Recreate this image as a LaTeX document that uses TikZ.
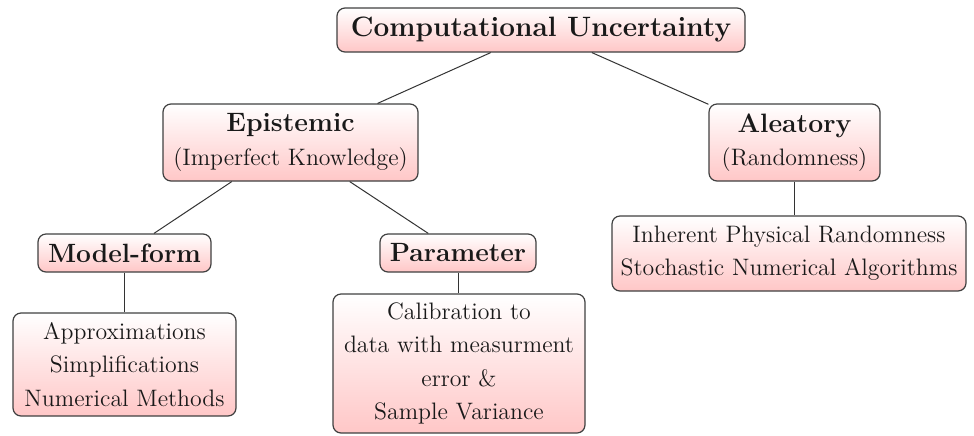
\documentclass[tikz,border=0pt]{standalone}
\usetikzlibrary{shadings}
\begin{document}
\begin{tikzpicture}[x=0.5pt,y=-0.5pt,
  box/.style={draw=black!75, line width=0.6pt, rounded corners=4pt,
    top color=white, bottom color=red!22, align=center, inner sep=2pt,
    font=\fontsize{11.9}{16.6}\selectfont, text=black!90},
  head/.style={font=\fontsize{13.2}{16.6}\selectfont\bfseries},
  link/.style={draw=black!80, line width=0.5pt}]
\useasboundingbox (0,0) rectangle (974,435);

% levels of the tree
\node[box, minimum width=204pt, minimum height=22pt,
      font=\fontsize{14}{16.6}\selectfont\bfseries] (root) at (541,30) {Computational Uncertainty};
\node[box, minimum width=127.5pt, minimum height=38.5pt] (epi) at (290.5,142.5)
  {{\fontsize{13.3}{16.6}\selectfont\bfseries Epistemic}\\(Imperfect Knowledge)};
\node[box, minimum width=85.5pt, minimum height=38.5pt] (ale) at (794.5,142.5)
  {{\fontsize{13.3}{16.6}\selectfont\bfseries Aleatory}\\(Randomness)};
\node[box, head, minimum width=86.5pt, minimum height=19pt] (model) at (124.5,253) {Model-form};
\node[box, head, minimum width=78pt, minimum height=19pt] (param) at (458,253) {Parameter};
\node[box, minimum width=111.5pt, minimum height=51.5pt] (approx) at (124.5,364.5)
  {Approximations\\Simplifications\\Numerical Methods};
\node[box, minimum width=126pt, minimum height=69.5pt] (calib) at (459,363.5)
  {Calibration to\\data with measurment\\error \&\\Sample Variance};
\node[box, minimum width=177pt, minimum height=37.5pt] (inh) at (789,253.5)
  {Inherent Physical Randomness\\Stochastic Numerical Algorithms};

% connectors
\draw[link] (root) -- (epi);
\draw[link] (root) -- (ale);
\draw[link] (epi) -- (model);
\draw[link] (epi) -- (param);
\draw[link] (model) -- (approx);
\draw[link] (param.south) -- (param.south |- calib.north);
\draw[link] (ale.south) -- (ale.south |- inh.north);
\end{tikzpicture}
\end{document}
